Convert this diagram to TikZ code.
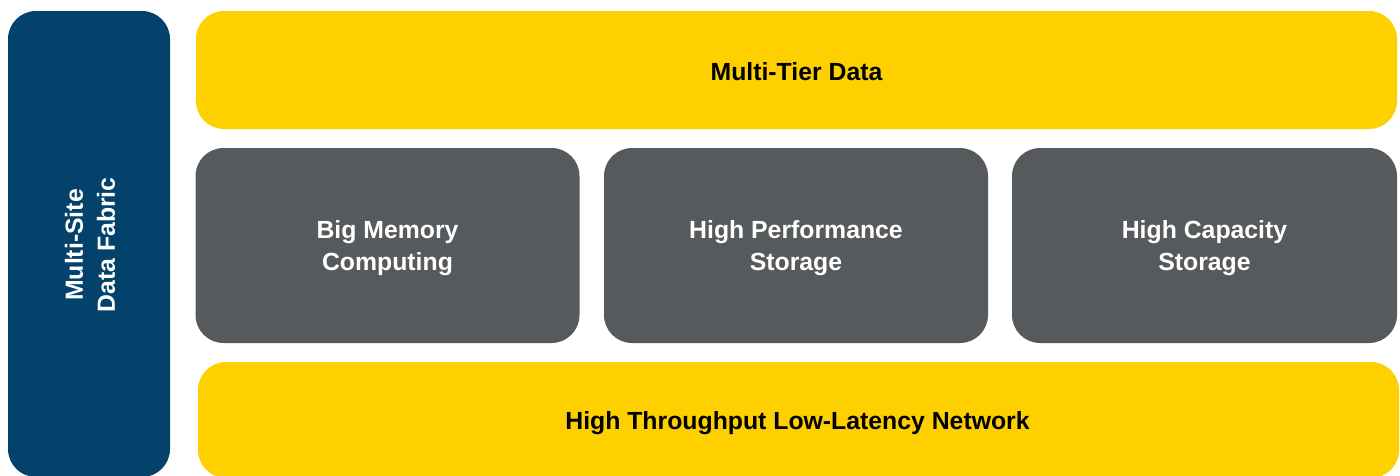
\documentclass[tikz,border=0pt]{standalone}
\usepackage{fontspec}
\setmainfont{Liberation Sans}
\definecolor{fabricblue}{HTML}{03426A}
\definecolor{tieryellow}{HTML}{FED000}
\definecolor{blockgray}{HTML}{575A5D}
\tikzset{
  box/.style={rounded corners=28pt, inner sep=0pt},
  yellowbox/.style={box, fill=tieryellow},
  graybox/.style={box, fill=blockgray},
  bluebox/.style={box, fill=fabricblue},
  lbl/.style={inner sep=0pt, align=center, font=\fontsize{24.8}{32}\selectfont\bfseries},
}
\begin{document}
\begin{tikzpicture}[x=1pt,y=-1pt]
\useasboundingbox (0,0) rectangle (1400,475);
\clip (0,0) rectangle (1400,475);
\node[bluebox, minimum width=162pt, minimum height=466pt] (fabric) at (89,244) {};
\node[lbl, white, rotate=90] (fabrictext) at ([xshift=1pt,yshift=-1pt]fabric.center) {Multi-Site\\Data Fabric};
\node[yellowbox, minimum width=1201pt, minimum height=118pt] (tier) at (796.5,70) {};
\node[lbl, black] (tiertext) at ([yshift=-2pt]tier.center) {Multi-Tier Data};
\node[graybox, minimum width=384pt, minimum height=195pt] (mem) at (387.5,245.5) {};
\node[lbl, white] (memtext) at ([yshift=-3pt]mem.center) {Big Memory\\Computing};
\node[graybox, minimum width=384pt, minimum height=195pt] (perf) at (796,245.5) {};
\node[lbl, white] (perftext) at ([yshift=-3pt]perf.center) {High Performance\\Storage};
\node[graybox, minimum width=385pt, minimum height=195pt] (cap) at (1204.5,245.5) {};
\node[lbl, white] (captext) at ([yshift=-3pt]cap.center) {High Capacity\\Storage};
\node[yellowbox, minimum width=1201pt, minimum height=116pt] (net) at (798.5,420) {};
\node[lbl, black] (nettext) at ([xshift=-1pt,yshift=-3pt]net.center) {High Throughput Low-Latency Network};
\end{tikzpicture}
\end{document}
